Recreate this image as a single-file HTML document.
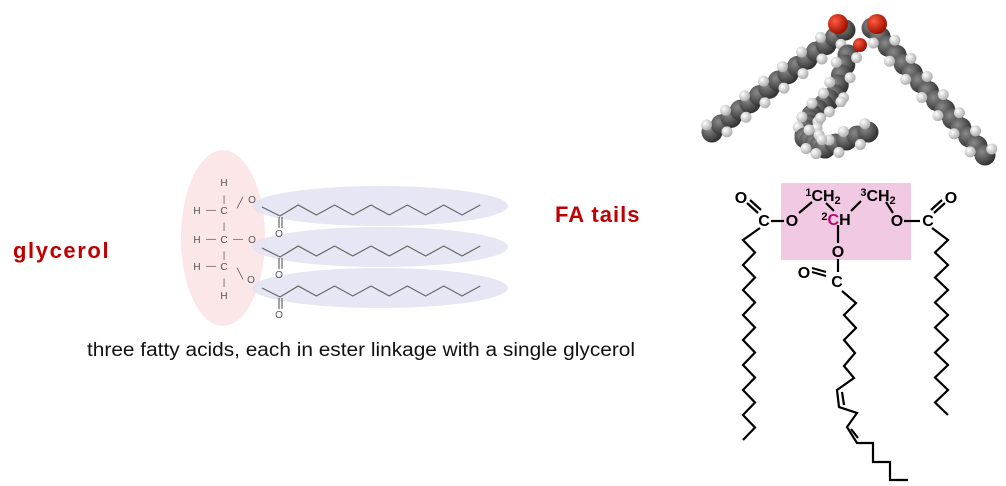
<!DOCTYPE html>
<html><head><meta charset="utf-8"><style>
html,body{margin:0;padding:0;background:#fff;}
svg{display:block;}
.t{font-family:"Liberation Sans",sans-serif;}
</style></head><body>
<svg width="1006" height="486" viewBox="0 0 1006 486">
<defs>
<radialGradient id="cg" cx="35%" cy="35%" r="65%"><stop offset="0" stop-color="#8a8a8a"/><stop offset="1" stop-color="#333"/></radialGradient>
<radialGradient id="hg" cx="35%" cy="35%" r="65%"><stop offset="0" stop-color="#ffffff"/><stop offset="1" stop-color="#b0b0b0"/></radialGradient>
<radialGradient id="og" cx="35%" cy="35%" r="65%"><stop offset="0" stop-color="#ff5a40"/><stop offset="1" stop-color="#a01000"/></radialGradient>
</defs>
<g><ellipse cx="223" cy="238" rx="42" ry="88" fill="#fbe6e8"/></g>
<g>
<ellipse cx="380" cy="206" rx="128" ry="20" fill="#e3e3f3" opacity="0.9"/>
<ellipse cx="380" cy="247" rx="128" ry="20" fill="#e3e3f3" opacity="0.9"/>
<ellipse cx="380" cy="288" rx="128" ry="20" fill="#e3e3f3" opacity="0.9"/>
</g>
<g id="leftchains" stroke="#666" stroke-width="1.2" fill="none"></g>
<g class="t" font-size="10" fill="#555" text-anchor="middle">
<text x="224" y="186">H</text><text x="224" y="202" font-size="9">|</text>
<text x="197" y="214">H</text><text x="211" y="213">—</text><text x="224" y="214">C</text><text x="240" y="206">╱</text><text x="252" y="203">O</text>
<text x="224" y="229" font-size="9">|</text>
<text x="197" y="243">H</text><text x="211" y="242">—</text><text x="224" y="243">C</text><text x="238" y="242">—</text><text x="252" y="243">O</text>
<text x="224" y="258" font-size="9">|</text>
<text x="197" y="270">H</text><text x="211" y="269">—</text><text x="224" y="270">C</text><text x="240" y="277">╲</text><text x="251" y="283">O</text>
<text x="224" y="285" font-size="9">|</text><text x="224" y="299">H</text>
<text x="279" y="237">O</text><text x="279" y="278">O</text><text x="279" y="318">O</text>
</g>
<text class="t" x="13" y="258" font-size="22" font-weight="bold" fill="#c00000" letter-spacing="1.6">glycerol</text>
<text class="t" x="555" y="222" font-size="22" font-weight="bold" fill="#c00000" letter-spacing="1">FA tails</text>
<text class="t" x="87" y="356" font-size="19" fill="#111" textLength="548" lengthAdjust="spacingAndGlyphs">three fatty acids, each in ester linkage with a single glycerol</text>
<g id="model"></g>
<rect x="781" y="183" width="130" height="77" fill="#f1c9e2"/>
<g id="rchains" stroke="#000" stroke-width="2.2" fill="none" stroke-linejoin="miter"></g>
<g class="t" font-weight="bold" font-size="16" fill="#000" text-anchor="middle">
<text x="741" y="203">O</text><text x="764" y="226">C</text><text x="792" y="226">O</text>
<text x="823" y="201"><tspan font-size="11" dy="-5">1</tspan><tspan dy="5">CH</tspan><tspan font-size="11" dy="3">2</tspan></text>
<text x="836" y="225"><tspan font-size="11" dy="-5">2</tspan><tspan dy="5" fill="#c0007a">C</tspan><tspan dy="0">H</tspan></text>
<text x="878" y="201"><tspan font-size="11" dy="-5">3</tspan><tspan dy="5">CH</tspan><tspan font-size="11" dy="3">2</tspan></text>
<text x="897" y="226">O</text><text x="928" y="226">C</text><text x="951" y="203">O</text>
<text x="838" y="257">O</text><text x="837" y="287">C</text><text x="804" y="278">O</text>
</g>
</svg>
<script>
const NS="http://www.w3.org/2000/svg";
function pl(g,pts,name){const p=document.createElementNS(NS,'polyline');p.setAttribute('points',pts.map(a=>a.join(',')).join(' '));


g.appendChild(p);}
function ln(g,x1,y1,x2,y2,name){pl(g,[[x1,y1],[x2,y2]],name);}
const lc=document.getElementById('leftchains');
[0,41,81].forEach((dy,i)=>{
 const pts=[[262,207+dy],[280,216+dy]];let x=280,up=true;
 for(let k=0;k<11;k++){x+=18.2;pts.push([x,up?205+dy:215+dy]);up=!up;}
 pl(lc,pts,'fa-chain-'+(i+1));
 ln(lc,279,217+dy,279,228+dy,'carbonyl-bond-'+(i+1));ln(lc,282,217+dy,282,228+dy,'carbonyl-bond-b-'+(i+1));
});
const rc=document.getElementById('rchains');
ln(rc,771,221,784,221,'bond-c-o-left');ln(rc,904,221,920,221,'bond-o-c-right');
ln(rc,799,213,812,202,'bond-o-ch2');ln(rc,826,203,834,211,'bond-ch2-ch');ln(rc,851,211,861,201,'bond-ch-ch2');ln(rc,886,202,893,213,'bond-ch2-o');
ln(rc,838,225,838,243,'bond-ch-o');ln(rc,838,259,838,272,'bond-o-c');
ln(rc,747,203,758,213,'co-left-a');ln(rc,750,200,761,210,'co-left-b');
ln(rc,945,203,934,213,'co-right-a');ln(rc,942,200,931,210,'co-right-b');
ln(rc,812,272,826,276,'co-mid-a');ln(rc,812,268,826,272,'co-mid-b');
function zz(x0,x1,y0,y1,step){const p=[];let y=y0,l=true;while(y<=y1){p.push([l?x0:x1,y]);y+=step;l=!l;}return p;}
pl(rc,[[760,228]].concat(zz(743,755,240,440,12.5)),'chain-left');
pl(rc,[[932,228]].concat(zz(948,935,240,415,12.5)),'chain-right');
pl(rc,[[842,291],[856,303],[844,315],[856,328],[844,340],[855,353],[844,366],[854,378],[837,390],[839,407],[857,413],[847,427],[857,443],[873,443],[873,462],[890,462],[890,480],[908,480]],'chain-middle');
ln(rc,842,392,844,405,'cis-bond-1');ln(rc,851,429,858,438,'cis-bond-2');
const m=document.getElementById('model');
function ball(x,y,r,f,name){const c=document.createElementNS(NS,'circle');c.setAttribute('cx',x);c.setAttribute('cy',y);c.setAttribute('r',r);c.setAttribute('fill',f);


m.appendChild(c);}
function arm(pts,n){
 for(let k=0;k<pts.length-1;k++){const a=pts[k],b=pts[k+1];for(let i=0;i<=n;i++){const t=i/n;ball(a[0]+(b[0]-a[0])*t,a[1]+(b[1]-a[1])*t,10.5,'url(#cg)','carbon-atom');}}
 for(let k=0;k<pts.length-1;k++){const a=pts[k],b=pts[k+1];const dx=b[0]-a[0],dy=b[1]-a[1],L=Math.hypot(dx,dy),nx=-dy/L,ny=dx/L;for(let i=0;i<=n;i++){const t=i/n;const x=a[0]+dx*t,y=a[1]+dy*t;const s=(i%2?1:-1)*9;ball(x+nx*s,y+ny*s,5.5,'url(#hg)','hydrogen-atom');}}
 }
arm([[712,132],[845,30]],14);
arm([[872,28],[985,155]],14);
arm([[848,55],[835,95],[812,115],[805,135]],4);
arm([[805,138],[825,148],[868,132]],4);
ball(838,24,10,'url(#og)','oxygen-atom');ball(877,24,10,'url(#og)','oxygen-atom');ball(860,45,7,'url(#og)','oxygen-atom');
</script>
</body></html>
